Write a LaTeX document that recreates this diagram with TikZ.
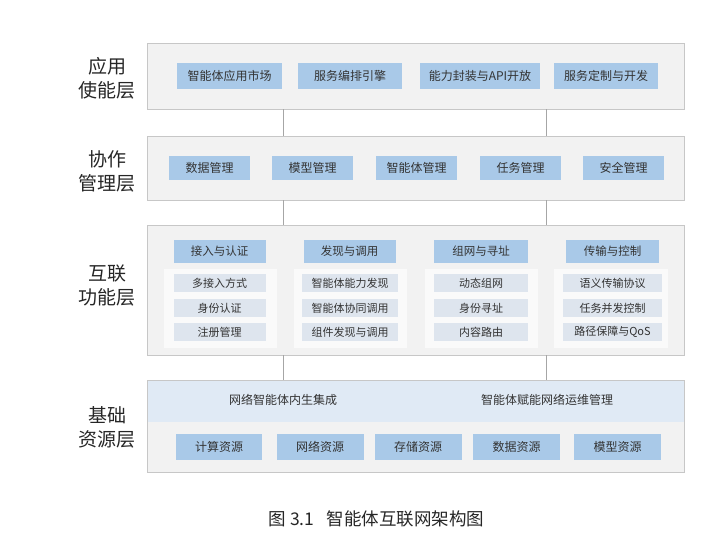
\documentclass[tikz,border=0pt]{standalone}
\usepackage{fontspec}
\setmainfont{Noto Sans CJK SC}
\begin{document}
\begin{tikzpicture}[x=1pt,y=-1pt,
  layer/.style={draw=black!22,fill=black!5,line width=0.8pt,inner sep=0pt},
  bbox/.style={fill=BoxBlue,draw=none,minimum height=25pt,font=\fontsize{12}{13}\selectfont,text=black!80,inner sep=0pt},
  hbox/.style={fill=BoxBlue,draw=none,minimum height=23pt,minimum width=92pt,font=\fontsize{11.5}{13}\selectfont,text=black!80,inner sep=0pt},
  ibox/.style={fill=ItemGray,draw=none,minimum height=18.5pt,font=\fontsize{11}{12}\selectfont,text=black!80,inner sep=0pt},
  panel/.style={fill=white!98!black,draw=none},
  lab/.style={font=\fontsize{19}{24}\selectfont,align=center,text=black!85},
  conn/.style={draw=black!35,line width=1pt}]
\definecolor{BoxBlue}{HTML}{A9C9E8}
\definecolor{ItemGray}{HTML}{DEE5EE}
\definecolor{BandBlue}{HTML}{E0EAF5}
\useasboundingbox[fill=white] (0,0) rectangle (720,541);
% layers
\node[layer,minimum width=537pt,minimum height=66pt] (L1) at (416,76) {};
\node[layer,minimum width=537pt,minimum height=64pt] (L2) at (416,168) {};
\node[layer,minimum width=537pt,minimum height=130pt] (L3) at (416,290) {};
\node[layer,minimum width=537pt,minimum height=92pt] (L4) at (416,426) {};
\fill[BandBlue] (148,380.5) rectangle (684,421.5);
% connectors
\coordinate (c1a) at (283,108); \coordinate (c1b) at (546,108);
\draw[conn] (L1.south -| c1a) -- (L2.north -| c1a);
\draw[conn] (L1.south -| c1b) -- (L2.north -| c1b);
\draw[conn] (L2.south -| c1a) -- (L3.north -| c1a);
\draw[conn] (L2.south -| c1b) -- (L3.north -| c1b);
\draw[conn] (L3.south -| c1a) -- (L4.north -| c1a);
\draw[conn] (L3.south -| c1b) -- (L4.north -| c1b);
% labels
\node[lab] (t1) at (107,78) {应用\\使能层};
\node[lab] (t2) at (107,171) {协作\\管理层};
\node[lab] (t3) at (107,286) {互联\\功能层};
\node[lab] (t4) at (107,427) {基础\\资源层};
% layer 1
\node[bbox,minimum width=105pt,minimum height=26pt] (a1) at (229.5,76) {智能体应用市场};
\node[bbox,minimum width=104pt,minimum height=26pt] (a2) at (350,76) {服务编排引擎};
\node[bbox,minimum width=120pt,minimum height=26pt] (a3) at (480,76) {能力封装与API开放};
\node[bbox,minimum width=104pt,minimum height=26pt] (a4) at (606,76) {服务定制与开发};
% layer 2
\node[bbox,minimum width=81pt,minimum height=24pt] (b1) at (209.5,168) {数据管理};
\node[bbox,minimum width=81pt,minimum height=24pt] (b2) at (312.5,168) {模型管理};
\node[bbox,minimum width=81pt,minimum height=24pt] (b3) at (416.5,168) {智能体管理};
\node[bbox,minimum width=81pt,minimum height=24pt] (b4) at (520.5,168) {任务管理};
\node[bbox,minimum width=81pt,minimum height=24pt] (b5) at (623.5,168) {安全管理};
% layer 3 panels
\fill[panel] (164,269) rectangle (277,348);
\fill[panel] (294,269) rectangle (407,348);
\fill[panel] (425,269) rectangle (538,348);
\fill[panel] (554,269) rectangle (668,348);
\node[hbox] (h1) at (219.5,251.5) {接入与认证};
\node[hbox] (h2) at (349.5,251.5) {发现与调用};
\node[hbox,minimum width=94pt] (h3) at (481,251.5) {组网与寻址};
\node[hbox,minimum width=93pt] (h4) at (612.5,251.5) {传输与控制};
\node[ibox,minimum width=92pt] (i11) at (219.5,283) {多接入方式};
\node[ibox,minimum width=92pt] (i12) at (219.5,308) {身份认证};
\node[ibox,minimum width=92pt] (i13) at (219.5,332) {注册管理};
\node[ibox,minimum width=96pt] (i21) at (350,283) {智能体能力发现};
\node[ibox,minimum width=96pt] (i22) at (350,308) {智能体协同调用};
\node[ibox,minimum width=96pt] (i23) at (350,332) {组件发现与调用};
\node[ibox,minimum width=94pt] (i31) at (481,283) {动态组网};
\node[ibox,minimum width=94pt] (i32) at (481,308) {身份寻址};
\node[ibox,minimum width=94pt] (i33) at (481,332) {内容路由};
\node[ibox,minimum width=99pt] (i41) at (612.5,283) {语义传输协议};
\node[ibox,minimum width=99pt] (i42) at (612.5,308) {任务并发控制};
\node[ibox,minimum width=99pt] (i43) at (612.5,332) {路径保障与QoS};
% layer 4
\node[font=\fontsize{12}{13}\selectfont,text=black!80] (n1) at (283,400) {网络智能体内生集成};
\node[font=\fontsize{12}{13}\selectfont,text=black!80] (n2) at (547,400) {智能体赋能网络运维管理};
\node[bbox,minimum width=86pt,minimum height=26pt] (r1) at (219,447) {计算资源};
\node[bbox,minimum width=87pt,minimum height=26pt] (r2) at (320,447) {网络资源};
\node[bbox,minimum width=87pt,minimum height=26pt] (r3) at (418,447) {存储资源};
\node[bbox,minimum width=87pt,minimum height=26pt] (r4) at (516.5,447) {数据资源};
\node[bbox,minimum width=87pt,minimum height=26pt] (r5) at (617.5,447) {模型资源};
% caption
\node[font=\fontsize{17.5}{20}\selectfont,text=black!85] (cap) at (376.5,519) {图 3.1\hspace{0.7em}智能体互联网架构图};
\end{tikzpicture}
\end{document}
